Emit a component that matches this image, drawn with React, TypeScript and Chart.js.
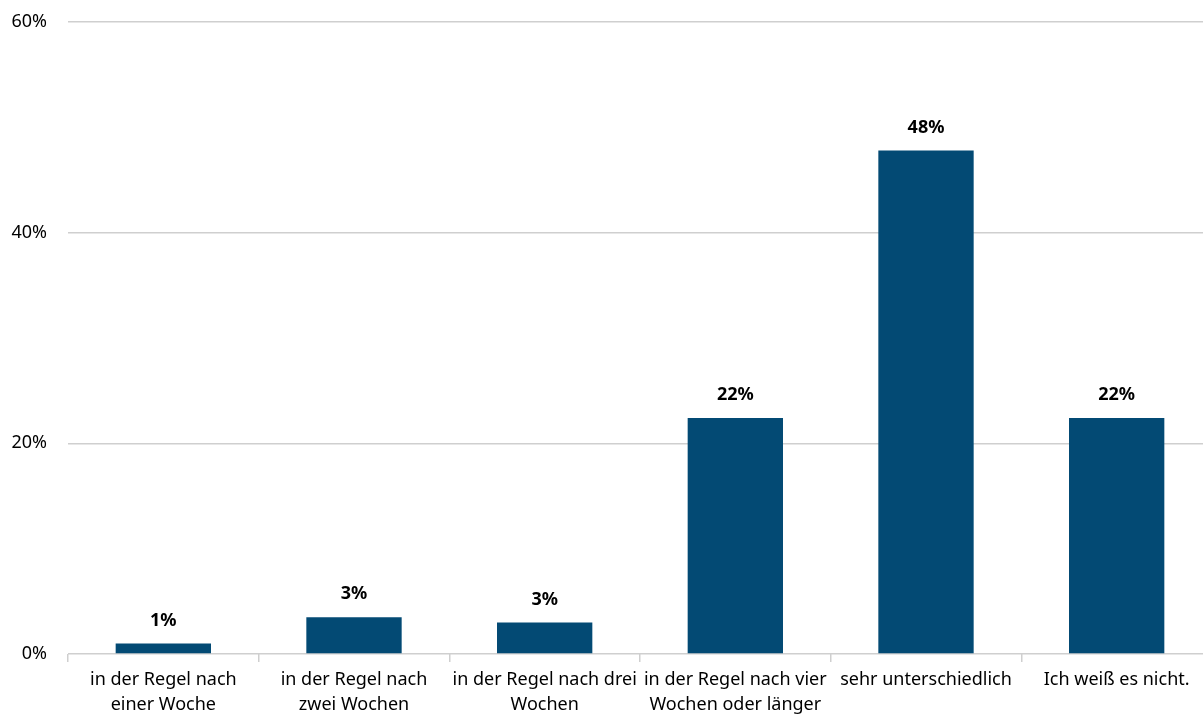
import React, { useEffect, useRef } from "react";
import { Chart, registerables } from "chart.js";

Chart.register(...registerables);

const categories: (string | string[])[] = [
  ["in der Regel nach", "einer Woche"],
  ["in der Regel nach", "zwei Wochen"],
  ["in der Regel nach drei", "Wochen"],
  ["in der Regel nach vier", "Wochen oder länger"],
  "sehr unterschiedlich",
  "Ich weiß es nicht.",
];
const values = [1.0, 3.5, 3.0, 22.4, 47.8, 22.4];
const valueLabels = ["1%", "3%", "3%", "22%", "48%", "22%"];
const yTicks = [0, 20, 40, 60];

const FONT = "'Noto Sans', sans-serif";

const dataLabelPlugin = {
  id: "dataLabels",
  afterDatasetsDraw(chart: any) {
    const { ctx } = chart;
    const meta = chart.getDatasetMeta(0);
    ctx.save();
    ctx.font = `bold 18px ${FONT}`;
    ctx.fillStyle = "#000000";
    ctx.textAlign = "center";
    ctx.textBaseline = "middle";
    meta.data.forEach((bar: any, i: number) => {
      ctx.fillText(valueLabels[i], bar.x, bar.y - 23);
    });
    ctx.restore();
  },
};

export default function App() {
  const canvasRef = useRef<HTMLCanvasElement | null>(null);

  useEffect(() => {
    if (!canvasRef.current) return;
    const chart = new Chart(canvasRef.current, {
      type: "bar",
      data: {
        labels: categories as any,
        datasets: [
          {
            data: values,
            backgroundColor: "#034a74",
            barPercentage: 0.5,
            categoryPercentage: 1,
          },
        ],
      },
      options: {
        animation: false,
        responsive: false,
        maintainAspectRatio: false,
        layout: { padding: { top: 22, left: 0, right: 0, bottom: 0 } },
        plugins: {
          legend: { display: false },
          tooltip: { enabled: false },
        },
        scales: {
          x: {
            offset: true,
            grid: {
              offset: true,
              drawOnChartArea: false,
              drawTicks: true,
              tickLength: 8,
              color: "#cfcfcf",
              lineWidth: 1.5,
            },
            border: { display: false },
            ticks: {
              color: "#000000",
              font: { family: FONT, size: 18, lineHeight: 1.4 },
              padding: 5,
              maxRotation: 0,
              autoSkip: false,
            },
            afterFit: (scale: any) => {
              scale.height = 61;
              scale.paddingLeft = 0;
              scale.paddingRight = 0;
            },
          },
          y: {
            min: 0,
            max: 60,
            afterBuildTicks: (scale: any) => {
              scale.ticks = yTicks.map((v) => ({ value: v }));
            },
            grid: {
              drawTicks: false,
              color: "#cfcfcf",
              lineWidth: 1.5,
            },
            border: { display: false },
            ticks: {
              color: "#000000",
              font: { family: FONT, size: 18 },
              padding: 21,
              callback: (v: any) => `${v}%`,
            },
            afterFit: (scale: any) => {
              scale.width = 68;
              scale.paddingTop = 0;
              scale.paddingBottom = 0;
            },
          },
        },
      },
      plugins: [dataLabelPlugin],
    });
    return () => chart.destroy();
  }, []);

  return (
    <div style={{ position: "fixed", left: 0, top: 0, width: 1203, height: 715, overflow: "hidden", background: "#ffffff" }}>
      <canvas ref={canvasRef} width={1212} height={715} style={{ display: "block" }} />
    </div>
  );
}
